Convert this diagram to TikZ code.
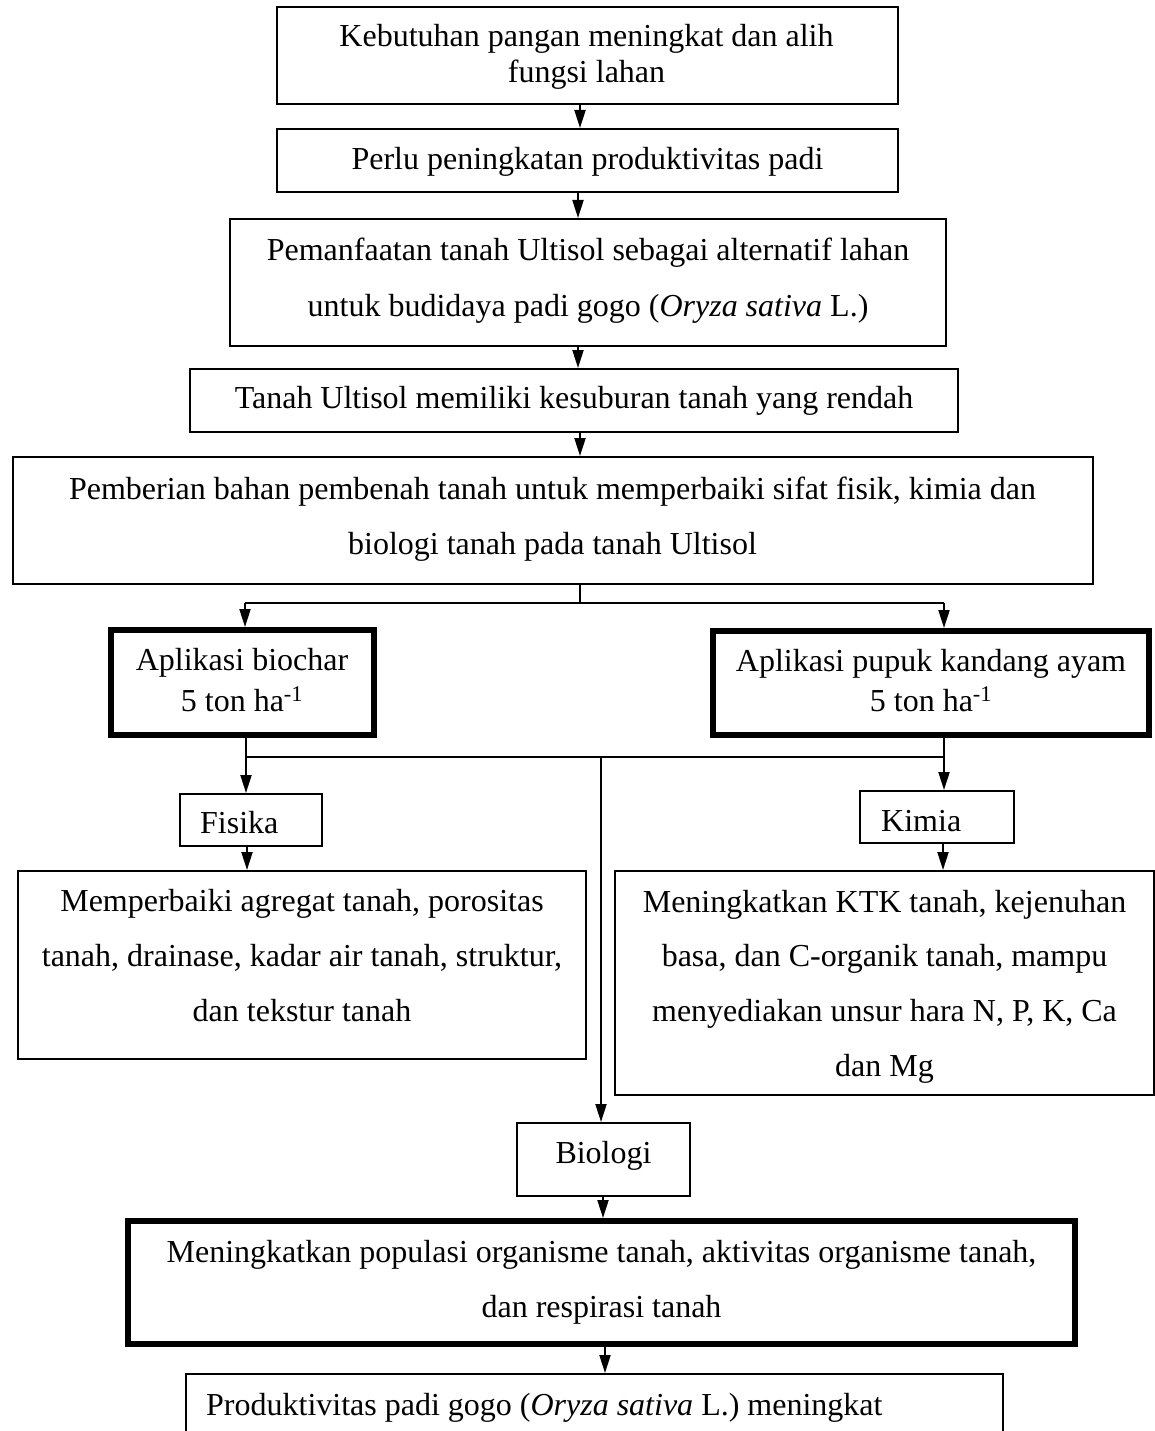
\documentclass[tikz,border=0pt]{standalone}
\usepackage{fontspec}
\setmainfont{Liberation Serif}
\usetikzlibrary{arrows.meta}
\tikzset{
  box/.style={draw, line width=2pt, inner sep=0pt},
  thickbox/.style={box, line width=6pt},
  txt/.style={inner sep=0pt, anchor=base, font=\fontsize{32}{36}\selectfont},
  ltxt/.style={txt, anchor=base west},
  arr/.style={line width=2pt, -{Triangle[length=18pt,width=11pt]}},
  ln/.style={line width=2pt}
}
\begin{document}
\begin{tikzpicture}[x=1pt,y=-1pt]
\useasboundingbox (0,0) rectangle (1154,1431);
% boxes
\node[box, minimum width=621pt, minimum height=97pt] (b1) at (587.5,55.5) {};
\node[box, minimum width=621pt, minimum height=63pt] (b2) at (587.5,160.5) {};
\node[box, minimum width=716pt, minimum height=127pt] (b3) at (588,282.5) {};
\node[box, minimum width=768pt, minimum height=63pt] (b4) at (574,400.5) {};
\node[box, minimum width=1080pt, minimum height=127pt] (b5) at (552.5,520.5) {};
\node[thickbox, minimum width=263pt, minimum height=105pt] (bio) at (242,682.5) {};
\node[thickbox, minimum width=436pt, minimum height=104pt] (pup) at (931,683) {};
\node[box, minimum width=142pt, minimum height=52pt] (fis) at (251,820) {};
\node[box, minimum width=154pt, minimum height=52pt] (kim) at (937,817) {};
\node[box, minimum width=568pt, minimum height=188pt] (fd) at (302,965) {};
\node[box, minimum width=539pt, minimum height=224pt] (kd) at (884.5,983) {};
\node[box, minimum width=173pt, minimum height=73pt] (bg) at (603.5,1159.5) {};
\node[thickbox, minimum width=947pt, minimum height=123pt] (pop) at (601.5,1282.5) {};
\node[box, minimum width=817pt, minimum height=72pt, anchor=north west] (last) at (185,1373) {};
% texts
\node[txt] (t1a) at (586.5,47) {Kebutuhan pangan meningkat dan alih};
\node[txt] (t1b) at (586.5,83) {fungsi lahan};
\node[txt] (t2) at (587.5,170) {Perlu peningkatan produktivitas padi};
\node[txt] (t3a) at (588,261) {Pemanfaatan tanah Ultisol sebagai alternatif lahan};
\node[txt] (t3b) at (588,316) {untuk budidaya padi gogo (\textit{Oryza sativa} L.)};
\node[txt] (t4) at (574,408) {Tanah Ultisol memiliki kesuburan tanah yang rendah};
\node[txt] (t5a) at (552.5,499) {Pemberian bahan pembenah tanah untuk memperbaiki sifat fisik, kimia dan};
\node[txt] (t5b) at (552.5,554) {biologi tanah pada tanah Ultisol};
\node[txt] (tbioa) at (242,670) {Aplikasi biochar};
\node[txt] (tbiob) at (242,711) {5 ton ha\textsuperscript{-1}};
\node[txt] (tpupa) at (931,671) {Aplikasi pupuk kandang ayam};
\node[txt] (tpupb) at (931,711) {5 ton ha\textsuperscript{-1}};
\node[ltxt] (tfis) at (200,833) {Fisika};
\node[ltxt] (tkim) at (881,831) {Kimia};
\node[txt] (tfda) at (302,911) {Memperbaiki agregat tanah, porositas};
\node[txt] (tfdb) at (302,966) {tanah, drainase, kadar air tanah, struktur,};
\node[txt] (tfdc) at (302,1021) {dan tekstur tanah};
\node[txt] (tkda) at (884.5,912) {Meningkatkan KTK tanah, kejenuhan};
\node[txt] (tkdb) at (884.5,966) {basa, dan C-organik tanah, mampu};
\node[txt] (tkdc) at (884.5,1021) {menyediakan unsur hara N, P, K, Ca};
\node[txt] (tkdd) at (884.5,1076) {dan Mg};
\node[txt] (tbg) at (603.5,1163) {Biologi};
\node[txt] (tpopa) at (601.5,1262) {Meningkatkan populasi organisme tanah, aktivitas organisme tanah,};
\node[txt] (tpopb) at (601.5,1317) {dan respirasi tanah};
\node[ltxt] (tlast) at (206,1415) {Produktivitas padi gogo (\textit{Oryza sativa} L.) meningkat};
% connectors
\draw[arr] (b1.south -| 580,0) -- (b2.north -| 580,0);
\draw[arr] (b2.south -| 578,0) -- (b3.north -| 578,0);
\draw[arr] (b3.south -| 578,0) -- (b4.north -| 578,0);
\draw[arr] (b4.south -| 580,0) -- (b5.north -| 580,0);
\coordinate (j1) at (580,603);
\coordinate (jl) at (245,603);
\coordinate (jr) at (944,603);
\draw[ln] (b5.south -| j1) -- (j1);
\draw[ln] (jl) -- (jr);
\draw[arr] (jl) -- (bio.north -| jl);
\draw[arr] (jr) -- (pup.north -| jr);
\coordinate (k1) at (246,757);
\coordinate (k2) at (944,757);
\coordinate (k3) at (601,757);
\draw[ln] (bio.south -| k1) -- (k1);
\draw[ln] (pup.south -| k2) -- (k2);
\draw[ln] (k1) -- (k2);
\draw[arr] (k1) -- (fis.north -| k1);
\draw[arr] (k2) -- (kim.north -| k2);
\draw[arr] (k3) -- (bg.north -| k3);
\draw[arr] (fis.south -| 247,0) -- (fd.north -| 247,0);
\draw[arr] (kim.south -| 943,0) -- (kd.north -| 943,0);
\draw[arr] (bg.south -| 603,0) -- (pop.north -| 603,0);
\draw[arr] (pop.south -| 605,0) -- (last.north -| 605,0);
\end{tikzpicture}
\end{document}
